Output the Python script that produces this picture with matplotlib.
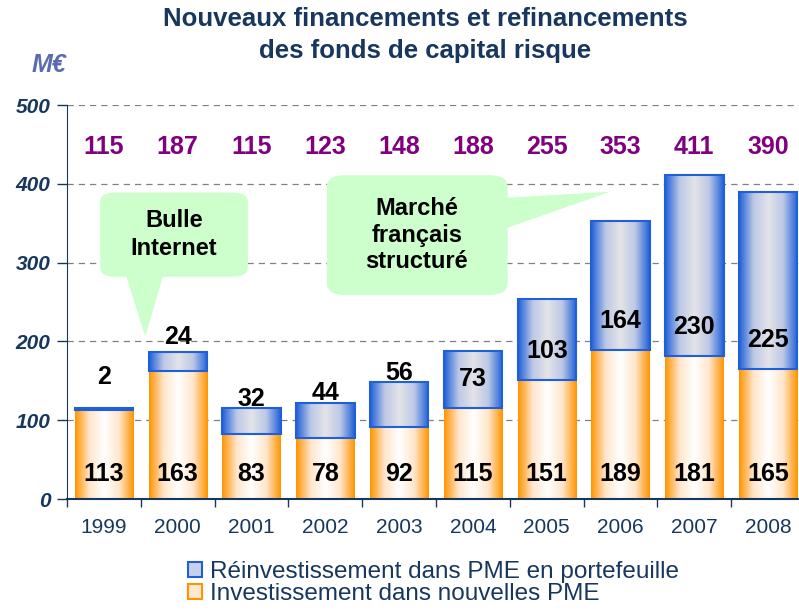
import numpy as np
import matplotlib.pyplot as plt
from matplotlib.colors import LinearSegmentedColormap
from matplotlib.patches import FancyBboxPatch, Polygon, Patch

plt.rcParams['font.family'] = ['Liberation Sans', 'DejaVu Sans']

years = ['1999', '2000', '2001', '2002', '2003', '2004', '2005', '2006', '2007', '2008']
new_pme = [113, 163, 83, 78, 92, 115, 151, 189, 181, 165]
reinvest = [2, 24, 32, 44, 56, 73, 103, 164, 230, 225]
totals = [115, 187, 115, 123, 148, 188, 255, 353, 411, 390]

NAVY = '#17375E'
ORANGE = '#FF9400'
BLUE = '#1F5FD8'

orange_cmap = LinearSegmentedColormap.from_list('o', [ORANGE, '#FFE6CC', '#FFFFFF', '#FFE6CC', ORANGE])
blue_cmap = LinearSegmentedColormap.from_list('b', [BLUE, '#BCC8E6', '#E4E4E8', '#BCC8E6', BLUE])
grad = np.linspace(0, 1, 256).reshape(1, -1)

fig = plt.figure(figsize=(7.99, 6.11), dpi=100)
ax = fig.add_axes([0.0839, 0.1833, 0.9237, 0.6448])

x = np.arange(len(years))
width = 0.79
bars_o = ax.bar(x, new_pme, width, color='none', edgecolor='none', zorder=3)
bars_b = ax.bar(x, reinvest, width, bottom=new_pme, color='none', edgecolor=BLUE, linewidth=1.5, zorder=4)

for bar in bars_o:
    x0, y0 = bar.get_x(), bar.get_y()
    ax.imshow(grad, cmap=orange_cmap, aspect='auto', zorder=2.5,
              extent=(x0, x0 + bar.get_width(), y0, y0 + bar.get_height()))
for bar in bars_b:
    x0, y0 = bar.get_x(), bar.get_y()
    ax.imshow(grad, cmap=blue_cmap, aspect='auto', zorder=2.6,
              extent=(x0, x0 + bar.get_width(), y0, y0 + bar.get_height()))

ax.set_xlim(-0.5, len(years) - 0.5)
ax.set_ylim(0, 500)

# value labels
for i in range(len(years)):
    ax.text(x[i], 32, str(new_pme[i]), ha='center', va='center', fontsize=18,
            fontweight='bold', color='black', zorder=6)
    if reinvest[i] >= 70:
        ly = new_pme[i] + 37
    else:
        ly = totals[i] + 12 + max(0, 30 - reinvest[i])
    ax.text(x[i], ly, str(reinvest[i]), ha='center', va='center', fontsize=18,
            fontweight='bold', color='black', zorder=6)
    ax.text(x[i], 447, str(totals[i]), ha='center', va='center', fontsize=18,
            fontweight='bold', color='#800080', zorder=6)

# callouts
green = '#CCFFCC'
ax.add_patch(FancyBboxPatch((-0.05, 282), 2.0, 107, boxstyle='round,pad=0,rounding_size=0.2',
                            mutation_aspect=60, facecolor=green, edgecolor='none', zorder=5))
ax.add_patch(Polygon([(0.3, 283), (0.8, 283), (0.56, 206)], closed=True,
                     facecolor=green, edgecolor='none', zorder=5))
ax.text(0.95, 336, 'Bulle\nInternet', ha='center', va='center', fontsize=17,
        fontweight='bold', linespacing=1.25, zorder=6)

ax.add_patch(FancyBboxPatch((3.02, 259), 2.45, 152, boxstyle='round,pad=0,rounding_size=0.25',
                            mutation_aspect=60, facecolor=green, edgecolor='none', zorder=5))
ax.add_patch(Polygon([(5.4, 382), (5.4, 342), (6.86, 390)], closed=True,
                     facecolor=green, edgecolor='none', zorder=5))
ax.text(4.24, 335, 'Marché\nfrançais\nstructuré', ha='center', va='center', fontsize=17,
        fontweight='bold', linespacing=1.2, zorder=6)

# axes styling
ax.set_yticks(range(0, 501, 100))
ax.set_yticklabels([str(v) for v in range(0, 501, 100)], fontsize=15, fontweight='bold',
                   fontstyle='italic', color=NAVY)
ax.yaxis.grid(True, linestyle=(0, (5, 4)), color='#808080', linewidth=0.9)
ax.set_axisbelow(True)
ax.tick_params(axis='y', length=7, color=NAVY, width=1, pad=5)
ax.set_xticks(x)
ax.set_xticklabels(years, fontsize=15, color=NAVY)
ax.set_xticks(np.arange(-0.5, len(years), 1), minor=True)
ax.tick_params(axis='x', which='major', length=0, pad=14)
ax.tick_params(axis='x', which='minor', length=6, color=NAVY, width=1)
for s in ['top', 'right']:
    ax.spines[s].set_visible(False)
ax.spines['left'].set_color(NAVY)
ax.spines['bottom'].set_color(NAVY)
ax.spines['bottom'].set_linewidth(1.5)

fig.text(0.532, 0.988, 'Nouveaux financements et refinancements\ndes fonds de capital risque',
         ha='center', va='top', fontsize=18.5, fontweight='bold', color=NAVY, linespacing=1.4)
fig.text(0.04, 0.894, 'M€', fontsize=18, fontweight='bold', fontstyle='italic', color='#5B6BB0',
         va='center')

handles = [Patch(facecolor='#C8D0EA', edgecolor=BLUE, linewidth=1.5),
           Patch(facecolor='#FFE8D0', edgecolor=ORANGE, linewidth=1.5)]
fig.legend(handles, ['Réinvestissement dans PME en portefeuille', 'Investissement dans nouvelles PME'],
           loc='upper left', bbox_to_anchor=(0.235, 0.082), frameon=False, fontsize=17.5,
           labelcolor=NAVY, handlelength=0.6, handleheight=0.6, handletextpad=0.3,
           labelspacing=0.0, borderpad=0, borderaxespad=0)

fig.savefig('out.png', dpi=100)
